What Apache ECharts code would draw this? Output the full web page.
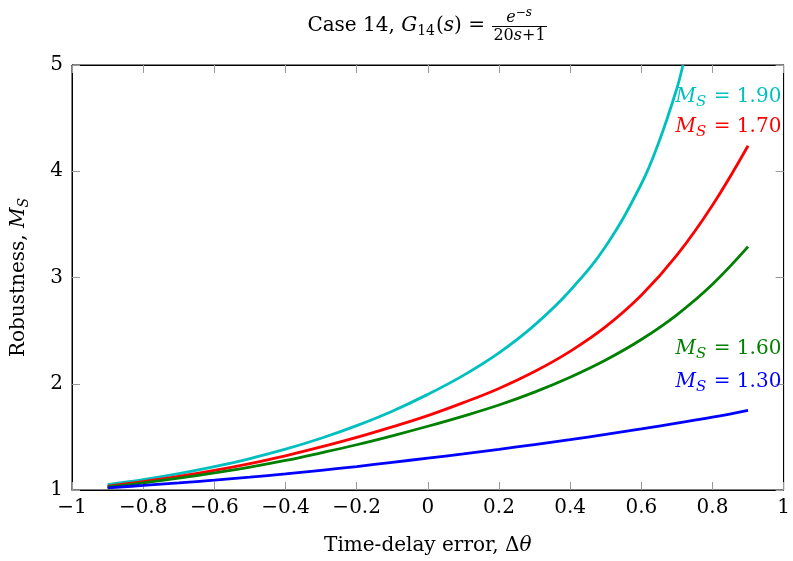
<!DOCTYPE html>
<html><head><meta charset="utf-8">
<script src="https://cdn.jsdelivr.net/npm/echarts@6/dist/echarts.min.js"></script>
<style>html,body{margin:0;padding:0;background:#fff}#c{width:793px;height:561px}</style>
</head><body><div id="c"></div>
<script>
// ---- data ----
const deltaTheta = [-0.9,-0.8,-0.7,-0.6,-0.5,-0.4,-0.3,-0.2,-0.1,0,0.1,0.2,0.3,0.4,0.5,0.6,0.7,0.8,0.9];
const deltaTheta190 = [-0.9,-0.8,-0.7,-0.6,-0.5,-0.4,-0.3,-0.2,-0.1,0,0.1,0.2,0.3,0.4,0.5,0.6,0.65,0.7,0.717];
const ms190 = [1.05,1.097,1.153,1.22,1.296,1.384,1.487,1.606,1.742,1.90,2.079,2.291,2.552,2.878,3.294,3.88,4.28,4.78,5.00];
const ms170 = [1.035,1.078,1.127,1.184,1.249,1.322,1.405,1.495,1.594,1.70,1.822,1.956,2.115,2.305,2.537,2.832,3.21,3.68,4.24];
const ms160 = [1.03,1.068,1.112,1.161,1.215,1.278,1.35,1.426,1.51,1.60,1.696,1.80,1.921,2.061,2.223,2.416,2.649,2.936,3.29];
const ms130 = [1.02,1.043,1.067,1.093,1.121,1.151,1.185,1.221,1.26,1.30,1.34,1.383,1.428,1.474,1.523,1.575,1.629,1.685,1.75];
const seriesNames = ['1.90','1.70','1.60','1.30'];
const seriesColors = ['#00bfbf','#ff0000','#008000','#0000ff'];
const labelPos = [[0.995,4.70],[0.995,4.42],[0.995,2.33],[0.995,2.02]];

const FONT = 'DejaVu Serif';
const TICK = 20;
const fmt = v => (v < 0 ? '\u2212' : '') + String(Math.abs(v));

function pairs(xs, ys){ return xs.map((x,i)=>[x, ys[i]]); }
const xsList = [deltaTheta190, deltaTheta, deltaTheta, deltaTheta];
const ysList = [ms190, ms170, ms160, ms130];

const chart = echarts.init(document.getElementById('c'), null, {renderer:'canvas'});

const tickStyle = {show:true, inside:true, length:8, lineStyle:{color:'#999', width:1}};
const series = ysList.map((ys, k) => ({
  type:'line', name:seriesNames[k], data:pairs(xsList[k], ys),
  smooth:0.4, showSymbol:false, symbol:'none',
  lineStyle:{color:seriesColors[k], width:2.8}, itemStyle:{color:seriesColors[k]},
  z: 3,
  markPoint:{
    symbol:'circle', symbolSize:1, itemStyle:{color:'rgba(0,0,0,0)'},
    data:[{coord:labelPos[k], value:seriesNames[k]}],
    label:{show:true, position:'left', distance:0, color:seriesColors[k],
      fontFamily:FONT, fontSize:20,
      formatter: p => '{i|M}{s|S}{n| = ' + p.value + '}',
      rich:{
        i:{fontStyle:'italic', fontFamily:FONT, fontSize:20, color:seriesColors[k]},
        s:{fontStyle:'italic', fontFamily:FONT, fontSize:15, color:seriesColors[k], padding:[10,1,0,0]},
        n:{fontFamily:FONT, fontSize:20, color:seriesColors[k]}
      }}
  }
}));

chart.setOption({
  animation:false,
  backgroundColor:'#fff',
  grid:{left:72, right:7, top:65, bottom:68, show:true, borderColor:'#000', borderWidth:1, backgroundColor:'transparent'},
  xAxis:[{
    type:'value', min:-1, max:1, interval:0.2, position:'bottom',
    axisLine:{show:true, onZero:false, lineStyle:{color:'#000', width:1}},
    axisTick:tickStyle, splitLine:{show:false},
    axisLabel:{fontFamily:FONT, fontSize:TICK, color:'#000', margin:8, formatter:fmt},
    name:'Time-delay error, \u0394{i|\u03b8}', nameLocation:'middle', nameGap:46,
    nameTextStyle:{fontFamily:FONT, fontSize:20, color:'#000', rich:{i:{fontFamily:FONT, fontSize:20, fontStyle:'italic', color:'#000'}}}
  },{
    type:'value', min:-1, max:1, interval:0.2, position:'top',
    axisLine:{show:true, onZero:false, lineStyle:{color:'#000'}},
    axisTick:tickStyle, axisLabel:{show:false}, splitLine:{show:false}
  }],
  yAxis:[{
    type:'value', min:1, max:5, interval:1, position:'left',
    axisLine:{show:true, onZero:false, lineStyle:{color:'#000', width:1}},
    axisTick:tickStyle, splitLine:{show:false},
    axisLabel:{fontFamily:FONT, fontSize:TICK, color:'#000', margin:9, formatter:fmt},
    name:'Robustness, {i|M}{s|S}', nameLocation:'middle', nameGap:41, nameRotate:90,
    nameTextStyle:{fontFamily:FONT, fontSize:20, color:'#000', rich:{
      i:{fontFamily:FONT, fontSize:20, fontStyle:'italic', color:'#000'},
      s:{fontFamily:FONT, fontSize:14, fontStyle:'italic', color:'#000', padding:[10,0,0,0]}}}
  },{
    type:'value', min:1, max:5, interval:1, position:'right',
    axisLine:{show:true, onZero:false, lineStyle:{color:'#000'}},
    axisTick:tickStyle, axisLabel:{show:false}, splitLine:{show:false}
  }],
  series: series,
  graphic:[
    {type:'text', style:{
      x:485, y:26, align:'right', verticalAlign:'middle',
      text:'{n|Case 14, }{i|G}{s|14}{n|(}{i|s}{n|) =}',
      rich:{
        n:{fontFamily:FONT, fontSize:20, fill:'#000'},
        i:{fontStyle:'italic', fontFamily:FONT, fontSize:20, fill:'#000'},
        s:{fontFamily:FONT, fontSize:14, fill:'#000', padding:[10,1,0,0]}
      }
    }},
    {type:'text', style:{
      x:519, y:15, align:'center', verticalAlign:'middle',
      text:'{i|e}{u|\u2212s}',
      rich:{i:{fontStyle:'italic', fontFamily:FONT, fontSize:16, fill:'#000', padding:[6,0,0,0]},
            u:{fontStyle:'italic', fontFamily:FONT, fontSize:12, fill:'#000', padding:[0,0,4,0]}}
    }},
    {type:'line', shape:{x1:492, y1:26.5, x2:547, y2:26.5}, style:{stroke:'#000', lineWidth:1}},
    {type:'text', style:{
      x:519.5, y:36, align:'center', verticalAlign:'middle',
      text:'{n|20}{i|s}{n|+1}',
      rich:{n:{fontFamily:FONT, fontSize:16, fill:'#000'}, i:{fontStyle:'italic', fontFamily:FONT, fontSize:16, fill:'#000'}}
    }}
  ]
});
</script></body></html>
